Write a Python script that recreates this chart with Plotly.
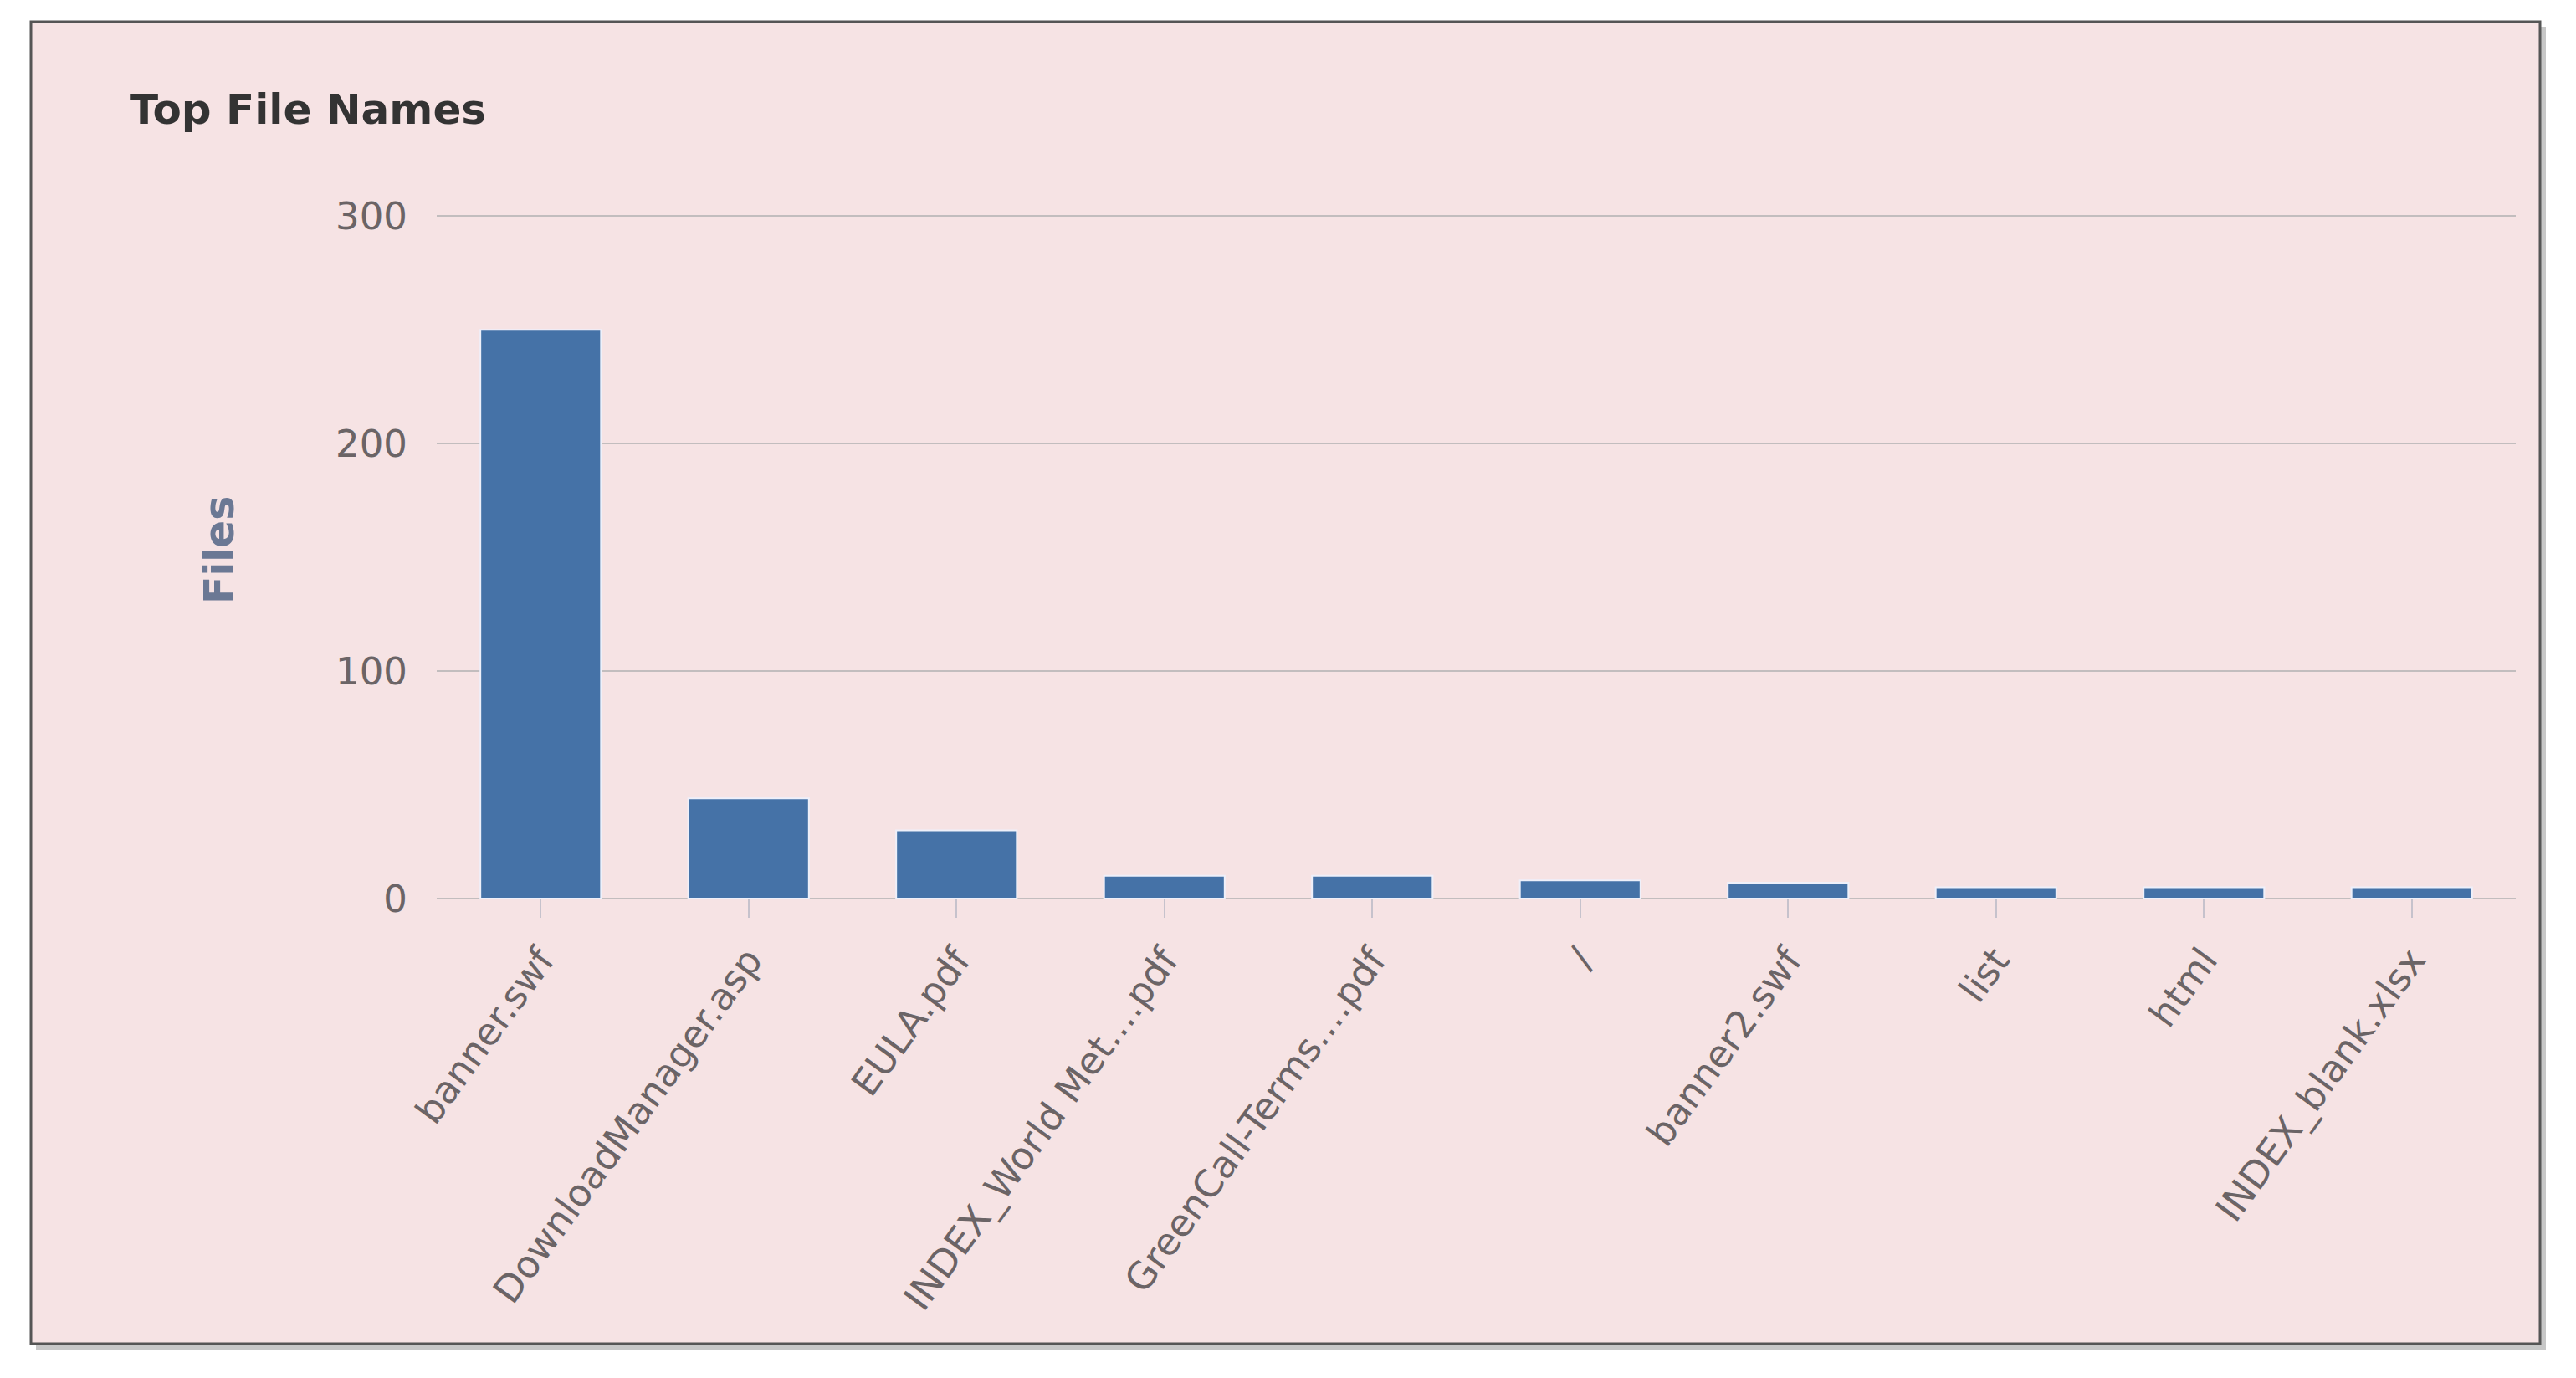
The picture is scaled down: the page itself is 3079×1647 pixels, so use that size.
import plotly.graph_objects as go

# data
nombres = ['banner.swf', 'DownloadManager.asp', 'EULA.pdf', 'INDEX_World Met....pdf',
           'GreenCall-Terms....pdf', '/', 'banner2.swf', 'list', 'html', 'INDEX_blank.xlsx']
archivos = [250, 44, 30, 10, 10, 8, 7, 5, 5, 5]
y_ticks = [0, 100, 200, 300]

W, H = 3079, 1647
OFF = 8  # page body margin
# plot area in pixels (page coords minus body margin)
PL, PR, PT, PB = 522 - OFF, 3007 - OFF, 257 - OFF, 1074 - OFF


def px(x):
    return (x - OFF - PL) / (PR - PL)


def py(y):
    return (PB - (y - OFF)) / (PB - PT)


fondo = '#f6e3e4'
grid = '#c2bdbe'
fig = go.Figure()

fig.add_trace(go.Bar(
    x=nombres, y=archivos,
    marker=dict(color='#4572a7', line=dict(color='#eef0fa', width=2)),
    showlegend=False
))

# shadow + chart box
fig.add_shape(type='rect', xref='paper', yref='paper', layer='below',
              x0=px(43), x1=px(3043), y0=py(1613), y1=py(32),
              line=dict(width=0), fillcolor='rgba(0,0,0,0.22)')
fig.add_shape(type='rect', xref='paper', yref='paper', layer='below',
              x0=px(37), x1=px(3036), y0=py(1606), y1=py(26),
              line=dict(color='#555555', width=3), fillcolor=fondo)

fig.add_annotation(text='<b>Top File Names</b>', xref='paper', yref='paper',
                   x=px(153), y=py(131), xanchor='left', yanchor='middle',
                   showarrow=False,
                   font=dict(family='DejaVu Sans', size=50, color='#333333'))

fig.add_annotation(text='<b>Files</b>', xref='paper', yref='paper',
                   x=px(262), y=py(658), xanchor='center', yanchor='middle',
                   textangle=-90, showarrow=False,
                   font=dict(family='DejaVu Sans', size=49, color='#6b7894'))

fig.update_layout(
    width=W, height=H,
    margin=dict(l=PL, r=W - PR, t=PT, b=H - PB),
    paper_bgcolor='white',
    plot_bgcolor='rgba(0,0,0,0)',
    bargap=0.42,
    xaxis=dict(
        tickangle=-54,
        ticks='outside', ticklen=22, tickwidth=2, tickcolor='#c6c2cc',
        tickfont=dict(family='DejaVu Sans', size=45, color='#6b6466'),
        showgrid=False, showline=False, zeroline=False,
        ticklabelstandoff=6
    ),
    yaxis=dict(
        range=[0, 300.5], tickvals=y_ticks,
        tickfont=dict(family='DejaVu Sans', size=45, color='#6b6466'),
        gridcolor=grid, gridwidth=2,
        zeroline=True, zerolinecolor=grid, zerolinewidth=2,
        showline=False, ticklabelstandoff=34
    )
)

fig.write_html('out.html')
